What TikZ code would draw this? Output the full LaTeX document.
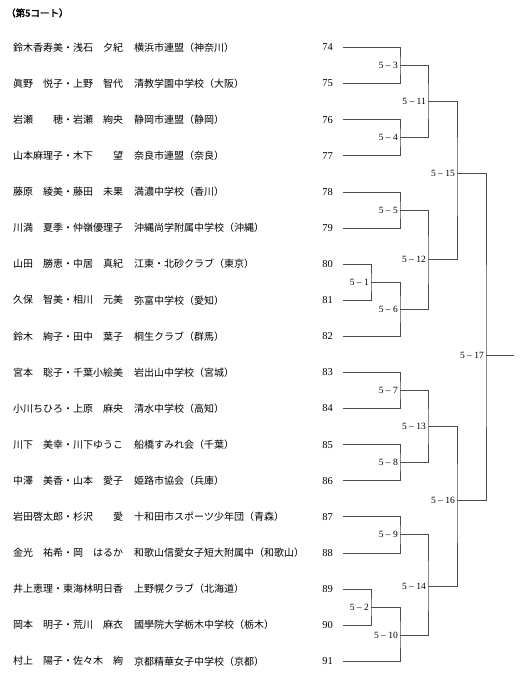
\documentclass[tikz,border=0pt]{standalone}
\usepackage{fontspec}
\setmainfont{Liberation Serif}
\newfontfamily\jfont{Noto Sans CJK JP}
\newfontfamily\jboldfont[FakeBold=2]{Noto Sans CJK JP}
\begin{document}
\begin{tikzpicture}[x=1pt,y=-1pt,
  title/.style={anchor=west,inner sep=0pt,font=\jboldfont\fontsize{9.5}{10}\selectfont},
  player/.style={anchor=west,inner sep=0pt,font=\jfont\fontsize{10}{10}\selectfont},
  team/.style={anchor=west,inner sep=0pt,font=\jfont\fontsize{10}{10}\selectfont},
  seedno/.style={anchor=east,inner sep=0pt,font=\fontsize{10.5}{10}\selectfont},
  matchno/.style={anchor=east,inner sep=2pt,font=\fontsize{9.5}{10}\selectfont},
  bracket/.style={draw=black!70,line width=0.7pt}]

\useasboundingbox (0,0) rectangle (520,677);

% court title
\node[title] (ttl) at (6,13) {（第5コート）};

% pairs, clubs and draw numbers
\foreach \who/\club [count=\i from 0] in {
  鈴木香寿美・浅石　夕紀/横浜市連盟（神奈川）,
  眞野　悦子・上野　智代/清教学園中学校（大阪）,
  岩瀬　　穂・岩瀬　絢央/静岡市連盟（静岡）,
  山本麻理子・木下　　望/奈良市連盟（奈良）,
  藤原　綾美・藤田　未果/満濃中学校（香川）,
  川満　夏季・仲嶺優理子/沖縄尚学附属中学校（沖縄）,
  山田　勝恵・中居　真紀/江東・北砂クラブ（東京）,
  久保　智美・相川　元美/弥富中学校（愛知）,
  鈴木　絢子・田中　葉子/桐生クラブ（群馬）,
  宮本　聡子・千葉小絵美/岩出山中学校（宮城）,
  小川ちひろ・上原　麻央/清水中学校（高知）,
  川下　美幸・川下ゆうこ/船橋すみれ会（千葉）,
  中澤　美香・山本　愛子/姫路市協会（兵庫）,
  岩田啓太郎・杉沢　　愛/十和田市スポーツ少年団（青森）,
  金光　祐希・岡　はるか/和歌山信愛女子短大附属中（和歌山）,
  井上恵理・東海林明日香/上野幌クラブ（北海道）,
  岡本　明子・荒川　麻衣/國學院大学栃木中学校（栃木）,
  村上　陽子・佐々木　絢/京都精華女子中学校（京都）}
{
  \pgfmathsetmacro\yy{47.5+36.1*\i}
  \pgfmathtruncatemacro\seed{74+\i}
  \node[player] (p\i) at (13,\yy) {\who};
  \node[team] (c\i) at (134,\yy) {\club};
  \node[seedno] (n\i) at (333,\yy) {\seed};
  \coordinate (t\i) at (343,\yy);
}

% match points
\coordinate (m1) at (371,282.2);
\coordinate (m2) at (371,607);
\coordinate (m3) at (400,65.5);
\coordinate (m4) at (400,137.7);
\coordinate (m5) at (400,210);
\coordinate (m6) at (400,309.2);
\coordinate (m7) at (400,390.5);
\coordinate (m8) at (400,462.6);
\coordinate (m9) at (400,534.8);
\coordinate (m10) at (400,635);
\coordinate (m11) at (428,101.6);
\coordinate (m12) at (428,259.6);
\coordinate (m13) at (428,426.5);
\coordinate (m14) at (428,586);
\coordinate (m15) at (457,173);
\coordinate (m16) at (457,500);
\coordinate (m17) at (486,355);
\coordinate (win) at (514,355);

% first matches
\draw[bracket] (t6) -| (m1) |- (t7);
\draw[bracket] (t15) -| (m2) |- (t16);
\draw[bracket] (t0) -| (m3) |- (t1);
\draw[bracket] (t2) -| (m4) |- (t3);
\draw[bracket] (t4) -| (m5) |- (t5);
\draw[bracket] (m1) -| (m6) |- (t8);
\draw[bracket] (t9) -| (m7) |- (t10);
\draw[bracket] (t11) -| (m8) |- (t12);
\draw[bracket] (t13) -| (m9) |- (t14);
\draw[bracket] (m2) -| (m10) |- (t17);

% later rounds
\draw[bracket] (m3) -| (m11) |- (m4);
\draw[bracket] (m5) -| (m12) |- (m6);
\draw[bracket] (m7) -| (m13) |- (m8);
\draw[bracket] (m9) -| (m14) |- (m10);
\draw[bracket] (m11) -| (m15) |- (m12);
\draw[bracket] (m13) -| (m16) |- (m14);
\draw[bracket] (m15) -| (m17) |- (m16);
\draw[bracket] (m17) -- (win);

% match numbers
\foreach \m in {1,...,17}
  \node[matchno] (l\m) at (m\m) {5 – \m};

\end{tikzpicture}
\end{document}
